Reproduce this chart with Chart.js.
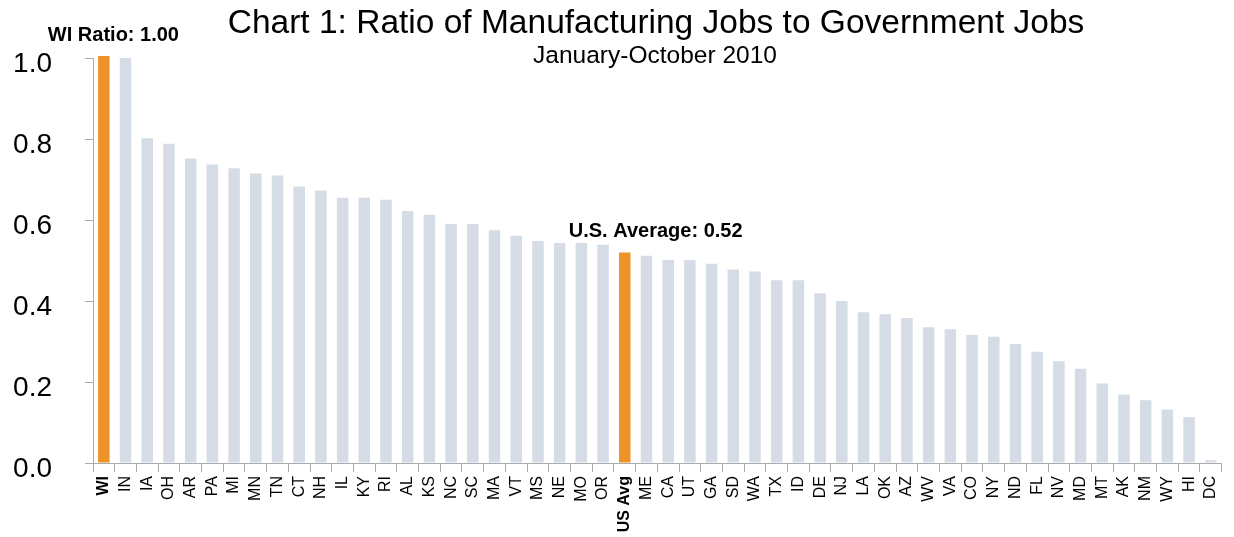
<!DOCTYPE html>
<html>
<head>
<meta charset="UTF-8">
<title>Chart 1: Ratio of Manufacturing Jobs to Government Jobs</title>
<script src="https://cdn.jsdelivr.net/npm/chart.js"></script>
<style>
  html, body { margin: 0; padding: 0; background: #fff; }
  #wrap { width: 1234px; height: 537px; position: relative; }
</style>
</head>
<body>
<div id="wrap"><canvas id="jobsChart"></canvas></div>
<script>
// categories in chart order (states, US average, DC)
const states = ['WI','IN','IA','OH','AR','PA','MI','MN','TN','CT','NH','IL','KY','RI','AL','KS','NC','SC',
  'MA','VT','MS','NE','MO','OR','US Avg','ME','CA','UT','GA','SD','WA','TX','ID','DE','NJ','LA','OK','AZ',
  'WV','VA','CO','NY','ND','FL','NV','MD','MT','AK','NM','WY','HI','DC'];

// ratio of manufacturing jobs to government jobs, Jan-Oct 2010
const ratios = [1.005, 1.00, 0.802, 0.788, 0.752, 0.737, 0.728, 0.715, 0.710, 0.683, 0.673, 0.655, 0.655, 0.650,
  0.622, 0.613, 0.590, 0.590, 0.575, 0.561, 0.548, 0.543, 0.543, 0.539, 0.520, 0.512, 0.501, 0.501, 0.492,
  0.478, 0.473, 0.451, 0.451, 0.419, 0.400, 0.372, 0.367, 0.358, 0.335, 0.330, 0.316, 0.312, 0.294, 0.275,
  0.251, 0.233, 0.196, 0.169, 0.155, 0.132, 0.113, 0.007];

const highlighted = ['WI', 'US Avg'];
const yTicks = [0, 0.2, 0.4, 0.6, 0.8, 1.0];
const callouts = [
  { category: 'WI', text: 'WI Ratio: 1.00' },
  { category: 'US Avg', text: 'U.S. Average: 0.52' }
];
const titleText = 'Chart 1: Ratio of Manufacturing Jobs to Government Jobs';
const subtitleText = 'January-October 2010';

const ORANGE = '#EE9328';
const LIGHT = '#D5DCE6';
const AXIS = '#ABABAB';
const FONT = '"Liberation Sans", Arial, sans-serif';

// title, subtitle and the two bold callouts
const textPlugin = {
  id: 'texts',
  afterDatasetsDraw(chart) {
    const ctx = chart.ctx;
    ctx.save();
    ctx.fillStyle = '#000';
    ctx.textAlign = 'center';
    ctx.textBaseline = 'alphabetic';
    ctx.font = '33.5px ' + FONT;
    ctx.fillText(titleText, 656, 33);
    ctx.font = '24.5px ' + FONT;
    ctx.fillText(subtitleText, 655, 63);

    const meta = chart.getDatasetMeta(0);
    ctx.font = 'bold 20px ' + FONT;
    ctx.textAlign = 'left';
    callouts.forEach(c => {
      const bar = meta.data[states.indexOf(c.category)];
      ctx.fillText(c.text, bar.x - 56, bar.y - 15);
    });
    ctx.restore();
  }
};

new Chart(document.getElementById('jobsChart'), {
  type: 'bar',
  data: {
    labels: states,
    datasets: [{
      data: ratios,
      backgroundColor: states.map(s => highlighted.includes(s) ? ORANGE : LIGHT),
      barPercentage: 0.53,
      categoryPercentage: 1.0,
      clip: false
    }]
  },
  options: {
    responsive: true,
    maintainAspectRatio: false,
    animation: false,
    layout: { padding: { top: 58, right: 0, left: 0, bottom: 0 } },
    plugins: {
      legend: { display: false },
      title: { display: false },
      tooltip: { enabled: false }
    },
    scales: {
      x: {
        grid: { drawOnChartArea: false, drawTicks: true, tickLength: 9, color: AXIS, offset: true },
        border: { display: true, color: AXIS },
        ticks: {
          autoSkip: false,
          minRotation: 90,
          maxRotation: 90,
          padding: 4,
          color: '#000',
          font: (c) => ({
            family: FONT,
            size: 16,
            weight: highlighted.includes(states[c.index]) ? 'bold' : 'normal'
          })
        },
        afterFit: (s) => { s.height = 74; }
      },
      y: {
        min: 0,
        max: 1.0,
        grid: { drawOnChartArea: false, drawTicks: true, tickLength: 8, color: AXIS },
        border: { display: true, color: AXIS },
        afterBuildTicks: (s) => { s.ticks = yTicks.map(v => ({ value: v })); },
        ticks: {
          padding: 33,
          color: '#000',
          font: { family: FONT, size: 28, lineHeight: '12px' },
          // empty first line pushes the number slightly below its tick
          callback: (v) => ['', Number(v).toFixed(1)]
        },
        afterFit: (s) => { s.width = 93; }
      }
    }
  },
  plugins: [textPlugin]
});
</script>
</body>
</html>
